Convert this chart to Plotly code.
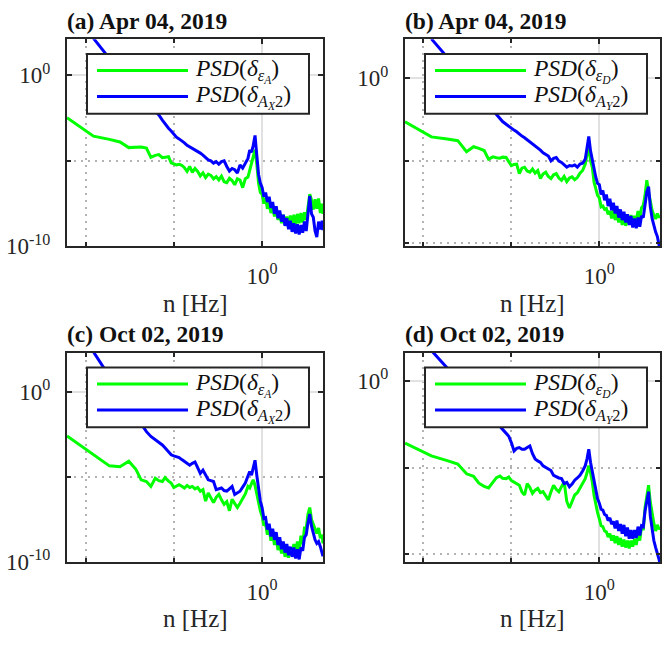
import plotly.graph_objects as go

# Shared frequency grid, log10(n / Hz)
LOG_FREQ = [
    -2.21, -1.91, -1.73, -1.61, -1.51, -1.43, -1.37, -1.31, -1.26, -1.21, -1.17, -1.13, -1.10, -1.06, -1.03, -1.00,
    -0.97, -0.94, -0.91, -0.88, -0.85, -0.82, -0.79, -0.76, -0.73, -0.70, -0.67, -0.64, -0.61, -0.58,
    -0.55, -0.52, -0.49, -0.46, -0.43, -0.40, -0.37, -0.34, -0.31, -0.28, -0.25, -0.22, -0.19, -0.16,
    -0.14, -0.12, -0.10, -0.08, -0.06, -0.04, -0.02, 0.00, 0.02, 0.04, 0.06,
    0.08, 0.10, 0.12, 0.14, 0.16, 0.18, 0.20, 0.22, 0.24, 0.26, 0.28, 0.30, 0.32, 0.34, 0.36, 0.38,
    0.40, 0.42, 0.44, 0.46, 0.48, 0.50, 0.52, 0.54, 0.56, 0.58, 0.60, 0.62, 0.64, 0.66, 0.68, 0.69,
]

# log10 PSD values, (a) Apr 04 2019: delta_eps_A and delta_AX2
LOG_PSD_A_EPS = [
    -2.48, -3.56, -3.75, -3.90, -4.23, -4.20, -4.19, -4.26, -4.80, -4.68, -4.64, -4.82, -4.78, -4.76, -5.12, -5.18,
    -5.24, -5.20, -5.26, -5.40, -5.62, -5.33, -5.68, -5.45, -5.62, -5.88, -5.70, -5.98, -5.78, -5.85,
    -6.05, -5.92, -6.12, -5.90, -6.22, -6.28, -6.02, -6.15, -6.40, -6.05, -6.12, -6.57, -6.05, -5.95,
    -5.55, -5.20, -4.75, -4.35, -5.20, -6.30, -6.85, -6.95, -7.50, -7.15, -7.80,
    -7.45, -8.05, -7.65, -8.25, -7.85, -8.45, -8.05, -8.65, -8.15, -8.75, -8.25, -8.85, -8.20, -8.70, -8.15, -8.75,
    -8.10, -8.65, -8.05, -8.60, -8.00, -8.45, -7.70, -6.95, -7.30, -7.85, -7.25, -7.80, -7.20, -8.05, -7.50, -8.10,
]
LOG_PSD_A_AX2 = [
    None, 2.15, 0.98, 0.28, -0.31, -0.78, -1.14, -1.49, -1.79, -2.08, -2.32, -2.62, -2.85, -3.10, -3.26, -3.45,
    -3.62, -3.72, -3.82, -3.95, -4.10, -4.19, -4.25, -4.36, -4.42, -4.55, -4.67, -4.80, -4.95, -5.00,
    -5.14, -5.05, -5.20, -5.05, -5.00, -5.33, -5.60, -5.45, -5.52, -5.71, -5.24, -5.43, -5.10, -4.86,
    -4.38, -4.50, -4.10, -3.52, -4.67, -5.80, -6.30, -6.55, -7.10, -6.85, -7.40,
    -7.10, -7.75, -7.40, -8.10, -7.65, -8.35, -7.90, -8.55, -8.15, -8.80, -8.35, -9.00, -8.50, -9.15, -8.65, -9.25,
    -8.70, -9.30, -8.75, -9.20, -8.55, -9.10, -8.20, -7.05, -8.10, -8.30, -9.10, -9.45, -8.55, -9.00, -8.50, -9.05,
]

# (b) Apr 04 2019: delta_eps_D and delta_AY2
LOG_PSD_B_EPS = [
    -2.63, -3.55, -3.68, -3.78, -4.45, -4.15, -4.25, -4.38, -4.90, -4.76, -4.82, -4.84, -4.78, -4.80, -5.05, -5.29,
    -5.22, -5.20, -5.78, -5.45, -5.39, -5.62, -5.69, -5.50, -5.75, -5.59, -6.08, -5.80, -5.69, -5.95,
    -6.08, -5.85, -5.78, -6.05, -6.18, -5.95, -6.27, -6.05, -5.98, -6.15, -6.02, -5.75, -5.59, -5.20,
    -4.60, -4.12, -5.00, -5.40, -6.30, -6.70, -7.10, -7.25, -7.80, -7.75, -7.95,
    -7.90, -8.25, -8.05, -8.50, -7.95, -8.60, -8.10, -8.75, -8.25, -8.90, -8.35, -8.95, -8.40, -8.85, -8.30, -8.80,
    -8.35, -8.65, -8.05, -8.50, -7.85, -7.70, -7.10, -6.18, -6.90, -7.55, -8.00, -8.30, -8.53, -8.20, -8.45, -8.33,
]
LOG_PSD_B_AY2 = [
    None, 2.40, 1.28, 0.53, -0.10, -0.60, -0.98, -1.35, -1.66, -1.98, -2.25, -2.45, -2.62, -2.78, -2.92, -3.04,
    -3.14, -3.24, -3.38, -3.50, -3.60, -3.72, -3.82, -3.95, -4.08, -4.18, -4.35, -4.51, -4.62, -4.71,
    -5.00, -4.85, -4.80, -5.02, -5.10, -5.25, -5.39, -5.29, -5.32, -5.25, -5.39, -5.20, -5.15, -4.90,
    -4.30, -3.53, -4.40, -4.95, -5.59, -6.00, -6.37, -6.45, -7.05, -6.80, -7.40,
    -7.05, -7.75, -7.30, -8.00, -7.55, -8.20, -7.75, -8.45, -7.95, -8.60, -8.10, -8.75, -8.25, -8.90, -8.35, -9.05,
    -8.50, -9.10, -8.45, -9.00, -8.35, -8.45, -7.60, -6.90, -6.57, -7.80, -8.50, -9.00, -9.31, -9.60, -10.10, -10.40,
]

# (c) Oct 02 2019: delta_eps_A and delta_AX2
LOG_PSD_C_EPS = [
    -2.59, -3.69, -4.35, -4.40, -4.08, -4.55, -5.17, -5.27, -5.56, -5.08, -5.22, -5.27, -5.04, -5.25, -5.36, -5.62,
    -5.55, -5.46, -5.55, -5.65, -5.50, -5.62, -5.56, -5.70, -5.62, -5.84, -5.75, -6.42, -5.94, -6.20,
    -6.51, -6.20, -6.03, -6.35, -6.61, -6.45, -6.99, -6.32, -6.60, -6.80, -6.55, -6.23, -6.00, -5.56,
    -5.65, -5.40, -5.17, -5.50, -6.03, -6.55, -6.99, -7.30, -7.85, -7.75, -8.40,
    -8.00, -8.75, -8.30, -9.00, -8.55, -9.30, -8.85, -9.50, -9.00, -9.70, -9.20, -9.75, -9.15, -9.60, -8.95, -9.50,
    -8.80, -9.35, -8.45, -8.95, -8.00, -8.00, -7.20, -6.80, -7.50, -7.76, -8.10, -8.33, -8.00, -8.60, -8.40, -8.91,
]
LOG_PSD_C_AX2 = [
    None, 2.35, 0.87, -0.05, -0.81, -1.42, -1.88, -2.34, -2.62, -2.80, -2.95, -3.12, -3.28, -3.50, -3.70, -3.76,
    -3.80, -3.86, -3.98, -4.10, -4.22, -4.31, -4.20, -4.12, -4.45, -4.79, -4.60, -4.90, -5.17, -5.22,
    -5.27, -5.75, -5.70, -5.65, -5.80, -5.84, -5.70, -5.56, -6.03, -5.95, -5.84, -5.60, -5.36, -4.95,
    -4.69, -4.89, -4.50, -4.02, -4.90, -5.80, -6.42, -6.80, -7.45, -7.40, -8.10,
    -7.75, -8.50, -8.05, -8.70, -8.25, -9.00, -8.55, -9.25, -8.80, -9.45, -8.95, -9.60, -9.10, -9.70, -9.15, -9.80,
    -9.25, -9.85, -9.15, -9.35, -8.55, -8.40, -7.70, -7.18, -7.90, -8.33, -8.70, -8.91, -8.80, -9.10, -9.40, -9.67,
]

# (d) Oct 02 2019: delta_eps_D and delta_AY2
LOG_PSD_D_EPS = [
    -3.60, -4.33, -4.60, -4.80, -5.36, -5.50, -5.90, -6.08, -6.17, -5.85, -5.58, -5.49, -5.62, -5.64, -5.55, -5.75,
    -5.83, -5.95, -6.02, -6.40, -6.58, -5.92, -6.15, -6.49, -6.30, -6.20, -6.45, -6.39, -6.60, -6.86,
    -6.40, -6.02, -6.25, -6.39, -6.10, -5.83, -6.95, -7.33, -6.95, -6.58, -6.45, -6.20, -5.95, -5.64,
    -5.30, -4.89, -5.30, -5.83, -6.60, -7.14, -7.60, -7.95, -8.35, -8.40, -8.65,
    -8.70, -9.00, -8.80, -9.20, -8.90, -9.35, -8.95, -9.45, -9.05, -9.55, -9.15, -9.60, -9.20, -9.65, -9.20, -9.55,
    -9.10, -9.45, -8.85, -9.20, -8.40, -8.60, -7.30, -6.50, -6.02, -7.00, -7.70, -8.20, -8.65, -8.30, -8.55, -8.46,
]
LOG_PSD_D_AY2 = [
    None, 1.73, 0.73, 0.06, -0.49, -0.94, -1.27, -1.60, -1.88, -2.16, -2.38, -2.60, -2.77, -2.99, -3.20, -3.57,
    -4.05, -3.90, -3.85, -3.95, -3.95, -3.85, -3.76, -4.20, -4.51, -4.62, -4.70, -4.90, -4.98, -5.10,
    -5.17, -5.45, -5.55, -5.60, -5.64, -5.92, -5.85, -6.11, -5.95, -5.73, -5.60, -5.45, -5.20, -4.89,
    -4.50, -3.95, -4.70, -5.26, -5.90, -6.39, -6.80, -7.05, -7.40, -7.45, -7.70,
    -7.75, -8.05, -7.90, -8.25, -8.10, -8.50, -8.05, -8.65, -8.25, -8.80, -8.30, -8.95, -8.45, -9.10, -8.60, -9.10,
    -8.60, -9.05, -8.40, -8.90, -8.35, -8.40, -7.50, -6.80, -6.39, -7.80, -8.65, -9.20, -9.59, -9.90, -10.30, -10.53,
]

TITLES = ["(a) Apr 04, 2019", "(b) Apr 04, 2019", "(c) Oct 02, 2019", "(d) Oct 02, 2019"]
GREEN_LABELS = [
    "<i>PSD</i>(<i>δ</i><sub><i>ε</i><sub><i>A</i></sub></sub>)",
    "<i>PSD</i>(<i>δ</i><sub><i>ε</i><sub><i>D</i></sub></sub>)",
    "<i>PSD</i>(<i>δ</i><sub><i>ε</i><sub><i>A</i></sub></sub>)",
    "<i>PSD</i>(<i>δ</i><sub><i>ε</i><sub><i>D</i></sub></sub>)",
]
BLUE_LABELS = [
    "<i>PSD</i>(<i>δ</i><sub><i>A</i><sub><i>X</i></sub>2</sub>)",
    "<i>PSD</i>(<i>δ</i><sub><i>A</i><sub><i>Y</i></sub>2</sub>)",
    "<i>PSD</i>(<i>δ</i><sub><i>A</i><sub><i>X</i></sub>2</sub>)",
    "<i>PSD</i>(<i>δ</i><sub><i>A</i><sub><i>Y</i></sub>2</sub>)",
]
GREEN_SERIES = [LOG_PSD_A_EPS, LOG_PSD_B_EPS, LOG_PSD_C_EPS, LOG_PSD_D_EPS]
BLUE_SERIES = [LOG_PSD_A_AX2, LOG_PSD_B_AY2, LOG_PSD_C_AX2, LOG_PSD_D_AY2]

W, H = 662, 646
SERIF = "Liberation Serif, Times New Roman, serif"
INK = "#262626"
GREEN = "#00ff00"
BLUE = "#0000ff"

# panel boxes in pixels: (left, right, top, bottom)
BOXES = [(67, 323, 40, 251.5), (405, 660, 40, 251.5), (67, 323, 360, 573.5), (405, 660, 360, 573.5)]
Y_RANGES = [(-10, 2.1), (-10.2, 2.38), (-10, 2.3), (-10.43, 1.6)]
Y_MAJOR = [[1e-10, 1], [1], [1e-10, 1], [1]]
Y_MINOR = [[1e-5], [1e-10, 1e-5], [1e-5], [1e-10, 1e-5]]
X_RANGE = (-2.21, 0.69)


def px(x):
    return x / W


def py(y):
    return 1 - y / H


def tick_text(v):
    return "10<sup>0</sup>" if v == 1 else "10<sup>-10</sup>"


freq = [10 ** v for v in LOG_FREQ]
fig = go.Figure()
shapes, annotations = [], []

for i in range(4):
    sfx = "" if i == 0 else str(i + 1)
    xa, ya = "x" + sfx, "y" + sfx
    left, right, top, bottom = BOXES[i]

    for vals, color in ((GREEN_SERIES[i], GREEN), (BLUE_SERIES[i], BLUE)):
        fig.add_trace(go.Scatter(
            x=freq, y=[None if v is None else 10 ** v for v in vals],
            mode="lines", line=dict(color=color, width=3),
            xaxis=xa, yaxis=ya, showlegend=False, hoverinfo="skip",
        ))

    common = dict(
        type="log", showline=True, linecolor=INK, linewidth=2, mirror="ticks",
        ticks="inside", ticklen=5, tickwidth=1.5, tickcolor=INK,
        showgrid=True, gridcolor="#e1e1e1", gridwidth=2, zeroline=False,
        tickfont=dict(family=SERIF, size=23, color=INK),
    )
    minor_common = dict(showgrid=True, gridcolor="#b3b3b3", griddash="2px,5px",
                        gridwidth=1.5, ticks="inside", ticklen=4, tickcolor=INK)
    fig.layout["xaxis" + sfx] = dict(
        common, domain=[px(left), px(right)], range=list(X_RANGE), anchor=ya,
        tickmode="array", tickvals=[1], ticktext=["10<sup>0</sup>"],
        minor=dict(minor_common, tickvals=[0.01, 0.1]), ticklabelstandoff=8,
    )
    fig.layout["yaxis" + sfx] = dict(
        common, domain=[py(bottom), py(top)], range=list(Y_RANGES[i]), anchor=xa,
        tickmode="array", tickvals=Y_MAJOR[i], ticktext=[tick_text(v) for v in Y_MAJOR[i]],
        minor=dict(minor_common, tickvals=Y_MINOR[i]), ticklabelstandoff=10,
    )

    # panel title and axis label
    annotations.append(dict(
        text="<b>" + TITLES[i] + "</b>", xref="paper", yref="paper",
        x=px(left - 2), y=py(top - 19), xanchor="left", yanchor="middle", showarrow=False,
        font=dict(family=SERIF, size=23.5, color="#111111"),
    ))
    annotations.append(dict(
        text="n [Hz]", xref="paper", yref="paper",
        x=px((left + right) / 2), y=py(bottom + 58), xanchor="center", yanchor="middle",
        showarrow=False, font=dict(family=SERIF, size=25, color=INK),
    ))

    # legend box with line samples
    lx0, ly0 = left + 20, top + 15
    lx1, ly1 = lx0 + 222, ly0 + 61
    shapes.append(dict(type="rect", xref="paper", yref="paper", x0=px(lx0), x1=px(lx1),
                       y0=py(ly1), y1=py(ly0), fillcolor="white", line=dict(color=INK, width=2),
                       layer="above"))
    for row, (color, label) in enumerate(((GREEN, GREEN_LABELS[i]), (BLUE, BLUE_LABELS[i]))):
        yy = ly0 + 17 + row * 26.5
        shapes.append(dict(type="line", xref="paper", yref="paper", x0=px(lx0 + 10), x1=px(lx0 + 101),
                           y0=py(yy), y1=py(yy), line=dict(color=color, width=3), layer="above"))
        annotations.append(dict(
            text=label, xref="paper", yref="paper", x=px(lx0 + 106), y=py(yy),
            xanchor="left", yanchor="middle", showarrow=False,
            font=dict(family=SERIF, size=23.5, color="#111111"),
        ))

fig.update_layout(
    width=W, height=H, margin=dict(l=0, r=0, t=0, b=0),
    paper_bgcolor="white", plot_bgcolor="white",
    shapes=shapes, annotations=annotations, showlegend=False,
)

fig.write_html("out.html")
